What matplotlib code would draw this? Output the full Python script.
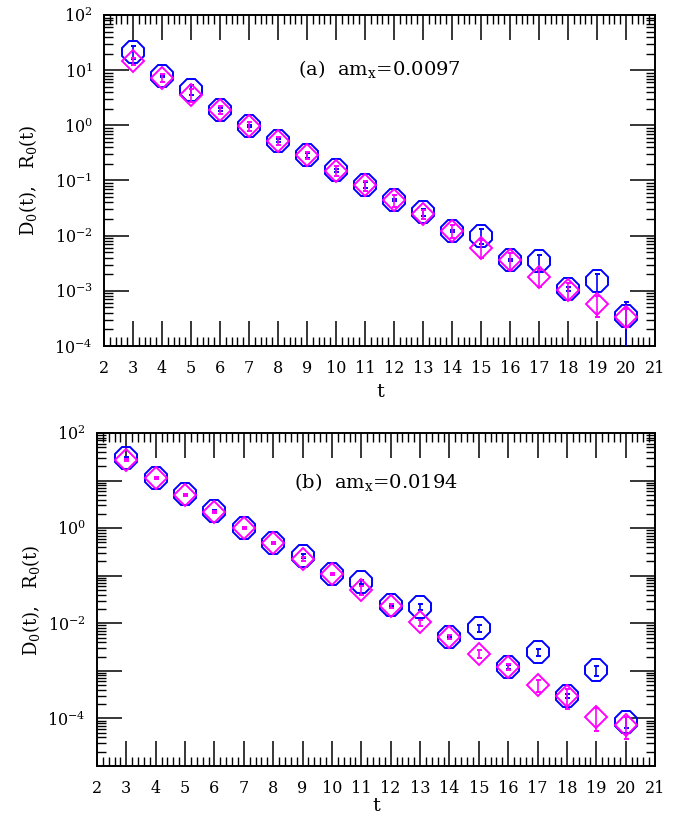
import numpy as np
import matplotlib
matplotlib.use("Agg")
import matplotlib.pyplot as plt
from matplotlib.ticker import LogLocator, FixedLocator, MultipleLocator, FuncFormatter, NullFormatter

plt.rcParams['font.family'] = ['DejaVu Serif']
plt.rcParams['mathtext.fontset'] = 'dejavuserif'

# ---------------- data ----------------
t = [3, 4, 5, 6, 7, 8, 9, 10, 11, 12, 13, 14, 15, 16, 17, 18, 19, 20]

# panel (a) am_x = 0.0097
a_blue = [21.5, 7.8, 4.45, 1.93, 0.97, 0.53, 0.285, 0.152, 0.0845, 0.0445, 0.0265, 0.0123,
          0.0100, 0.00366, 0.00341, 0.00107, 0.00148, 0.00035]
a_blue_relerr = [0.25, 0.05, 0.2, 0.05, 0.05, 0.05, 0.1, 0.05, 0.12, 0.05, 0.16, 0.05,
                 0.3, 0.05, 0.3, 0.08, 0.35, 0.8]
a_mag = [14.6, 7.3, 3.6, 1.9, 0.97, 0.53, 0.29, 0.15, 0.082, 0.0445, 0.0248, 0.0123,
         0.0061, 0.0036, 0.0018, 0.00103, 0.00057, 0.00034]
a_mag_relerr = [0.15, 0.15, 0.25, 0.17, 0.17, 0.18, 0.15, 0.2, 0.2, 0.25, 0.18, 0.25,
                0.35, 0.35, 0.35, 0.35, 0.4, 0.35]

# panel (b) am_x = 0.0194
b_blue = [29.9, 11.4, 5.15, 2.3, 1.03, 0.49, 0.258, 0.108, 0.0745, 0.0241, 0.0222, 0.0052,
          0.0078, 0.00122, 0.00252, 0.000296, 0.00104, 0.0000857]
b_blue_relerr = [0.05, 0.03, 0.03, 0.03, 0.03, 0.03, 0.1, 0.03, 0.1, 0.05, 0.15, 0.05,
                 0.17, 0.1, 0.17, 0.1, 0.24, 0.25]
b_mag = [27.5, 11.4, 4.9, 2.2, 1.03, 0.49, 0.23, 0.108, 0.0498, 0.0236, 0.0104, 0.0052,
         0.00226, 0.0012, 0.000505, 0.00029, 0.000109, 0.000073]
b_mag_relerr = [0.05, 0.05, 0.05, 0.05, 0.05, 0.05, 0.1, 0.05, 0.2, 0.1, 0.15, 0.1,
                0.19, 0.15, 0.3, 0.45, 0.5, 0.5]

x_ticks = list(range(2, 22))
a_y_exponents = [-4, -3, -2, -1, 0, 1, 2]
a_y_labelled = [-4, -3, -2, -1, 0, 1, 2]
b_y_exponents = [-5, -4, -3, -2, -1, 0, 1, 2]
b_y_labelled = [-4, -2, 0, 2]
panel_labels = [r"(a)  am$_{\rm x}$=0.0097", r"(b)  am$_{\rm x}$=0.0194"]
ylabel_text = r"D$_0$(t),   R$_0$(t)"
xlabel_text = "t"

BLUE = (0, 0, 1)
MAG = (1, 0, 1)

W, H = 689, 821
fig = plt.figure(figsize=(W / 100, H / 100), dpi=100)


def px_axes(l, r, top, bot):
    return fig.add_axes([l / W, 1 - bot / H, (r - l) / W, (bot - top) / H])


def draw_panel(ax, blue, blue_rel, mag, mag_rel, exps, labelled, label, text_y):
    tt = np.array(t, dtype=float)
    b = np.array(blue)
    m = np.array(mag)
    ax.errorbar(tt, b, yerr=b * np.array(blue_rel), fmt='8', ms=16.5, mfc='none', mec=BLUE,
                mew=1.4, ecolor=BLUE, elinewidth=1.2, capsize=1.8, capthick=1.2, zorder=3)
    ax.errorbar(tt, m, yerr=m * np.array(mag_rel), fmt='D', ms=10.9, mfc='none', mec=MAG,
                mew=1.4, ecolor=MAG, elinewidth=1.2, capsize=1.8, capthick=1.2, zorder=4)
    ax.set_yscale('log')
    ax.set_xlim(2, 21)
    ax.set_ylim(10.0 ** min(exps), 10.0 ** max(exps))
    ax.xaxis.set_major_locator(FixedLocator(x_ticks))
    ax.xaxis.set_minor_locator(MultipleLocator(0.2))
    ax.yaxis.set_major_locator(FixedLocator([10.0 ** e for e in exps]))
    minors = [s * 10.0 ** e for e in exps[:-1] for s in range(2, 10)]
    ax.yaxis.set_minor_locator(FixedLocator(minors))
    ax.yaxis.set_minor_formatter(NullFormatter())

    def yfmt(v, pos):
        e = int(round(np.log10(v)))
        if e not in labelled:
            return ""
        return r"$10^{%d}$" % e
    ax.yaxis.set_major_formatter(FuncFormatter(yfmt))
    ax.tick_params(which='both', direction='in', top=True, right=True, colors='black')
    ax.tick_params(which='major', length=18, width=1.1, labelsize=11.5)
    ax.tick_params(which='minor', length=6.5, width=1.0)
    ax.tick_params(axis='x', which='major', pad=10)
    ax.tick_params(axis='y', which='major', pad=8)
    for s in ax.spines.values():
        s.set_linewidth(1.4)
    ax.text(0.5, text_y, label, transform=ax.transAxes, ha='center', va='baseline', fontsize=14)


ax1 = px_axes(104, 655, 15, 346)
draw_panel(ax1, a_blue, a_blue_relerr, a_mag, a_mag_relerr, a_y_exponents, a_y_labelled,
           panel_labels[0], 0.819)
ax2 = px_axes(97, 655, 433, 766)
draw_panel(ax2, b_blue, b_blue_relerr, b_mag, b_mag_relerr, b_y_exponents, b_y_labelled,
           panel_labels[1], 0.835)

fig.text(28 / W, 1 - 180 / H, ylabel_text, rotation=90, ha='center', va='center', fontsize=13)
fig.text(31 / W, 1 - 600 / H, ylabel_text, rotation=90, ha='center', va='center', fontsize=13)
fig.text(380 / W, 1 - 392 / H, xlabel_text, ha='center', va='center', fontsize=14)
fig.text(376 / W, 1 - 806 / H, xlabel_text, ha='center', va='center', fontsize=14)

fig.savefig("out.png", dpi=100)
